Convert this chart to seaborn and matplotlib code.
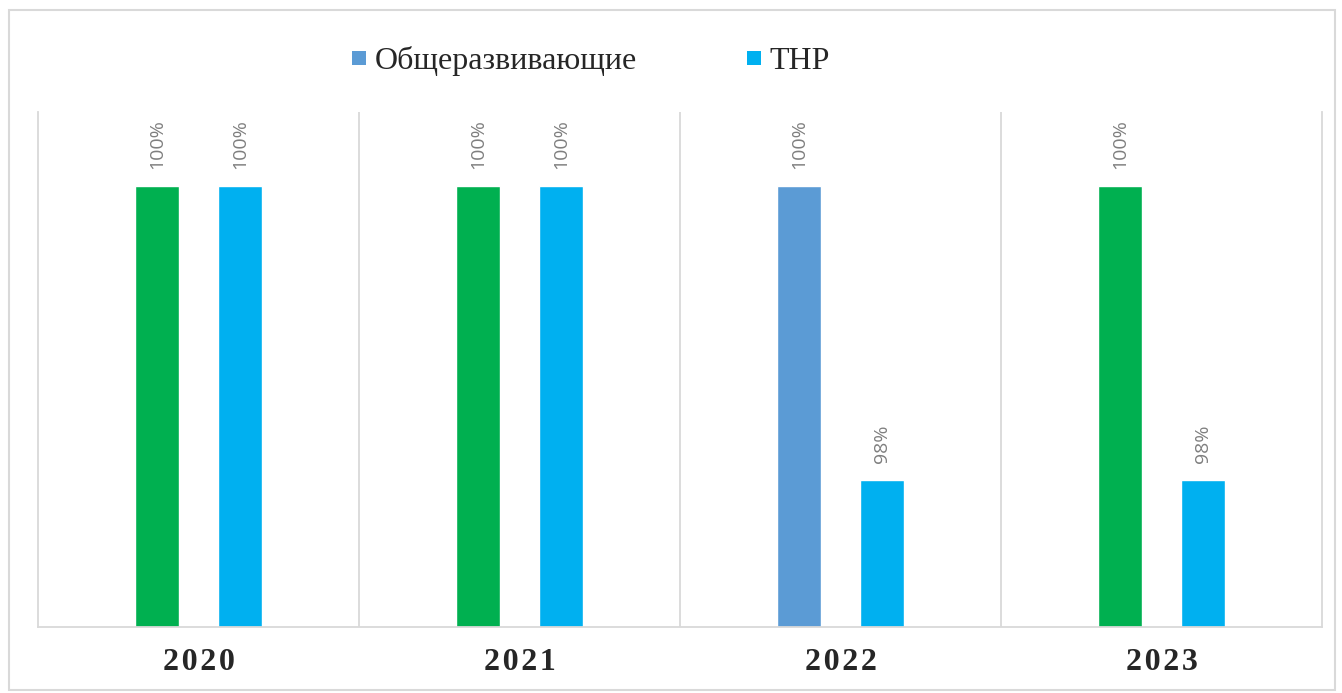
import pandas as pd
import matplotlib.pyplot as plt
import matplotlib.patches as mpatches
from matplotlib.lines import Line2D
import seaborn as sns

sns.set_theme(style="white")

# data
years = ["2020", "2021", "2022", "2023"]
general = [100, 100, 100, 100]     # Общеразвивающие
tnr = [100, 100, 98, 98]           # ТНР
series_names = ["Общеразвивающие", "ТНР"]

# colours (first series was recoloured per point in the original)
general_colors = ["#00B050", "#00B050", "#5B9BD5", "#00B050"]
legend_colors = ["#5B9BD5", "#00B0F0"]
grid_col = "#D9D9D9"

df = pd.DataFrame({
    "Year": years * 2,
    "Value": general + tnr,
    "Group": [series_names[0]] * 4 + [series_names[1]] * 4,
})

fig = plt.figure(figsize=(13.42, 6.93), dpi=100)
ax = fig.add_axes([0.0283, 0.0952, 0.9568, 0.7432])

sns.barplot(data=df, x="Year", y="Value", hue="Group", hue_order=series_names,
            palette=legend_colors, width=0.52, gap=0.47, legend=False, ax=ax,
            saturation=1, errorbar=None)

# recolour first series bars per point
bars = ax.patches
for p, c in zip(bars[:4], general_colors):
    p.set_facecolor(c)
for p in bars[4:8]:
    p.set_facecolor(legend_colors[1])

# data labels
for p in bars[:8]:
    h = p.get_height()
    ax.annotate(f"{h:.0f}%", (p.get_x() + p.get_width() / 2, h),
                xytext=(0, 12), textcoords="offset points",
                rotation=90, ha="center", va="bottom",
                fontsize=14, color="#7F7F7F", family="Open Sans")

ax.set_ylim(97, 100.5)
ax.set_xlim(-0.5, 3.5)
ax.set_yticks([])
ax.set_xlabel("")
ax.set_ylabel("")

# category separators
ax.set_xticks([0.5, 1.5, 2.5], minor=True)
ax.grid(True, which="minor", axis="x", color=grid_col, linewidth=1.3)
ax.grid(False, which="major")
ax.tick_params(axis="x", which="both", length=0)
ax.set_xticks(range(len(years)))
# slightly spaced-out year labels, as in the original
ax.set_xticklabels(["\u200a".join(y) for y in years], fontsize=23,
                   fontweight="bold", family="Liberation Serif")
ax.tick_params(axis="x", pad=15)

for side in ["left", "right", "bottom"]:
    ax.spines[side].set_color(grid_col)
    ax.spines[side].set_linewidth(1.3)
ax.spines["top"].set_visible(False)

# legend with square markers
handles = [Line2D([], [], marker="s", linestyle="none", markersize=10,
                  markerfacecolor=c, markeredgewidth=0, label=n)
           for c, n in zip(legend_colors, series_names)]
fig.legend(handles=handles, loc="center", bbox_to_anchor=(0.44, 0.912), ncol=2,
           frameon=False, prop={"family": "Liberation Serif", "size": 23},
           handlelength=0.5, handletextpad=0.25, columnspacing=3.4)

# outer chart border
fig.patches.append(mpatches.Rectangle((0.007, 0.004), 0.988, 0.982, transform=fig.transFigure,
                                      fill=False, edgecolor=grid_col, linewidth=1.5))

fig.savefig("out.png", dpi=100)
